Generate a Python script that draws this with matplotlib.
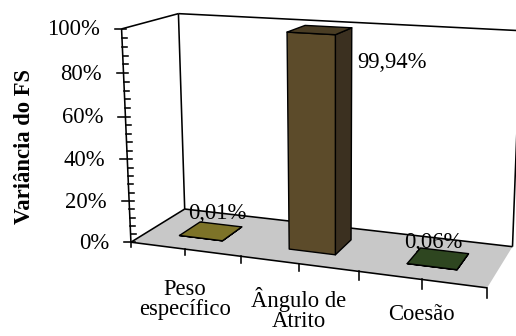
import numpy as np
import matplotlib
matplotlib.use("Agg")
import matplotlib.pyplot as plt
from matplotlib.patches import Polygon

plt.rcParams['font.family'] = ['Liberation Serif', 'DejaVu Serif']

# ---- data -------------------------------------------------------------
categories = ['Peso\nespecífico', 'Ângulo de\nAtrito', 'Coesão']
values = [0.01, 99.94, 0.06]                 # share of FS variance, %
value_labels = ['0,01%', '99,94%', '0,06%']
y_ticks = [0, 20, 40, 60, 80, 100]
y_tick_labels = ['0%', '20%', '40%', '60%', '80%', '100%']
y_minor_step = 4
y_title = 'Variância do FS'

# ---- styling ----------------------------------------------------------
top_colors = ['#7d7328', '#4a3d24', '#2e4620']
front_colors = ['#7d7328', '#5c4b2a', '#2e4620']
side_colors = ['#5a5320', '#3b3020', '#22361a']
floor_color = '#c8c8c8'
FS = 16.3
W, H = 516, 336

# ---- perspective camera of the 3-D chart box ---------------------------
# world: x = category units (0..3), d = depth (0..1), z = value fraction (0..1)
box_world = np.array([
    [0, 0, 0], [0, 0, 1], [0, 1, 0], [0, 1, 1], [3, 1, 0], [3, 0, 0],
    [0.5, 0, 0], [1, 0, 0], [1.5, 0, 0], [2, 0, 0], [2.5, 0, 0],
])
box_screen = np.array([
    [131.2, 243.5], [121.7, 29.3], [185.0, 209.5], [178.3, 13.3],
    [512.3, 246.5], [487.5, 287.0],
    [184.3, 247.2], [240.5, 254.0], [299.0, 265.0], [359.5, 274.0],
    [421.7, 279.0],
])
# guide lines on screen: (two screen points, world direction that lies on it)
box_lines = [
    ([178.3, 13.3], [516.0, 31.5], [1, 0, 0, 0]),   # back wall top edge
    ([512.3, 246.5], [515.6, 160.0], [0, 0, 1, 0]),  # back wall right edge
]
CU, CV, CS = 320.0, 150.0, 200.0


def _norm(p):
    return np.array([(p[0] - CU) / CS, (p[1] - CV) / CS, 1.0])


def fit_camera():
    rows = []
    for Xw, uv in zip(box_world, box_screen):
        Xh = np.r_[Xw, 1.0]
        u, v, _ = _norm(uv)
        z4 = np.zeros(4)
        rows.append(np.r_[Xh, z4, -u * Xh])
        rows.append(np.r_[z4, Xh, -v * Xh])
    for p1, p2, direction in box_lines:
        l = np.cross(_norm(p1), _norm(p2))
        l = l / np.hypot(l[0], l[1])
        Xd = np.array(direction, dtype=float)
        rows.append(np.r_[l[0] * Xd, l[1] * Xd, l[2] * Xd])
    A = np.array(rows)
    _, _, Vt = np.linalg.svd(A)
    return Vt[-1].reshape(3, 4)


P = fit_camera()


def project(pts):
    pts = np.atleast_2d(np.asarray(pts, dtype=float))
    Xh = np.c_[pts, np.ones(len(pts))]
    q = Xh @ P.T
    u = q[:, 0] / q[:, 2] * CS + CU
    v = q[:, 1] / q[:, 2] * CS + CV
    return np.c_[u, v]


fig = plt.figure(figsize=(W / 100, H / 100), dpi=100)
ax = fig.add_axes([0, 0, 1, 1])
ax.set_xlim(0, W)
ax.set_ylim(H, 0)
ax.axis('off')

n = len(categories)
LW = 1.15


def seg(a, b, **kw):
    p = project([a, b])
    ax.plot(p[:, 0], p[:, 1], color=kw.pop('color', 'black'),
            lw=kw.pop('lw', LW), solid_capstyle='butt', **kw)


# floor
floor = project([[0, 0, 0], [n, 0, 0], [n, 1, 0], [0, 1, 0]])
ax.add_patch(Polygon(floor, closed=True, facecolor=floor_color,
                     edgecolor='none', zorder=1))

# walls
seg([0, 1, 0], [n, 1, 0])
seg([0, 0, 0], [0, 1, 0])
seg([0, 1, 0], [0, 1, 1])
seg([0, 0, 1], [0, 1, 1])
seg([0, 1, 1], [n, 1, 1])
seg([n, 1, 0], [n, 1, 1])

# bars
half_w = 0.2
d0, d1 = 0.3, 0.7
for i, val in enumerate(values):
    c = i + 0.5
    x0, x1 = c - half_w, c + half_w
    z = val / 100.0
    front = project([[x0, d0, 0], [x1, d0, 0], [x1, d0, z], [x0, d0, z]])
    side = project([[x1, d0, 0], [x1, d1, 0], [x1, d1, z], [x1, d0, z]])
    top = project([[x0, d0, z], [x1, d0, z], [x1, d1, z], [x0, d1, z]])
    for poly, col in ((side, side_colors[i]), (front, front_colors[i]),
                      (top, top_colors[i])):
        ax.add_patch(Polygon(poly, closed=True, facecolor=col,
                             edgecolor='black', lw=1.0, joinstyle='round',
                             zorder=3))

# value axis
seg([0, 0, 0], [0, 0, 1], zorder=4)
for t in range(0, 101, y_minor_step):
    px, py = project([0, 0, t / 100.0])[0]
    if t in y_ticks:
        ax.plot([px - 7, px + 4.5], [py, py], color='black', lw=LW, zorder=4)
    else:
        ax.plot([px, px + 5], [py, py], color='black', lw=LW, zorder=4)
for t, lab in zip(y_ticks, y_tick_labels):
    px, py = project([0, 0, t / 100.0])[0]
    ax.text(px - 22, py + 1, lab, ha='right', va='center', fontsize=FS)

ax.text(25, 146.5, y_title, rotation=90, ha='center', va='center',
        fontsize=FS, fontweight='bold')

# category axis
seg([0, 0, 0], [n, 0, 0], zorder=4)
for k in range(2 * n + 1):
    x = k / 2
    px, py = project([x, 0, 0])[0]
    ax.plot([px, px], [py, py + 5 + 5 * x / n], color='black', lw=LW, zorder=4)

cat_offsets = [50, 46, 35]
for i, lab in enumerate(categories):
    px, py = project([i + 0.5, 0, 0])[0]
    ax.text(px, py + cat_offsets[i], lab, ha='center', va='center',
            fontsize=FS, linespacing=0.95)

# data labels
label_shift = [(6, -18), (72, 33), (-5, -16)]
for i, (val, lab) in enumerate(zip(values, value_labels)):
    px, py = project([i + 0.5, 0.5, val / 100.0])[0]
    dx, dy = label_shift[i]
    ax.text(px + dx, py + dy, lab, ha='center', va='center', fontsize=FS,
            zorder=5)

fig.savefig('out.png', dpi=100)
